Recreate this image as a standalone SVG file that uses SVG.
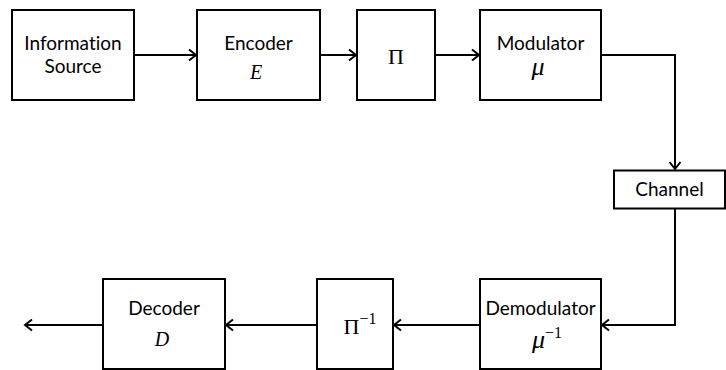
<svg xmlns="http://www.w3.org/2000/svg" width="726" height="370" viewBox="0 0 726 370">
<style>
.box{fill:#fff;stroke:#000;stroke-width:2}
.lbl{font-family:Lato,"Liberation Sans",sans-serif;font-size:19px;fill:#000;text-anchor:middle;font-variant-ligatures:none}
.math{font-family:"Liberation Serif","DejaVu Serif",serif;font-size:22px;fill:#000;text-anchor:middle}
.it{font-style:italic;font-size:20px}
.mu{font-style:italic;font-size:26px}
.conn{fill:none;stroke:#000;stroke-width:2}
</style>
<defs>
<marker id="arr" markerUnits="userSpaceOnUse" markerWidth="14" markerHeight="14" refX="10" refY="7" orient="auto">
<path d="M3,1.5 L10,7 L3,12.5" fill="none" stroke="#000" stroke-width="2"/>
</marker>
</defs>
<g id="connectors">
<path class="conn" d="M134,55 H196" marker-end="url(#arr)"/>
<path class="conn" d="M320,55 H356" marker-end="url(#arr)"/>
<path class="conn" d="M435,55 H479" marker-end="url(#arr)"/>
<path class="conn" d="M601,55 H675 V169" marker-end="url(#arr)"/>
<path class="conn" d="M675,208 V325 H602" marker-end="url(#arr)"/>
<path class="conn" d="M480,325 H394" marker-end="url(#arr)"/>
<path class="conn" d="M317,325 H226" marker-end="url(#arr)"/>
<path class="conn" d="M103,325 H25" marker-end="url(#arr)"/>
</g>
<g id="source">
<rect class="box" x="12" y="10" width="122" height="90"/>
<text class="lbl" x="73" y="50">Information</text>
<text class="lbl" x="73" y="73">Source</text>
</g>
<g id="encoder">
<rect class="box" x="197" y="10" width="123" height="90"/>
<text class="lbl" x="258.5" y="50">Encoder</text>
<text class="math it" x="256" y="79">E</text>
</g>
<g id="interleaver">
<rect class="box" x="357" y="10" width="78" height="90"/>
<text class="math" x="396" y="64">Π</text>
</g>
<g id="modulator">
<rect class="box" x="480" y="10" width="121" height="90"/>
<text class="lbl" x="540.5" y="50">Modulator</text>
<text class="math mu" x="538" y="75">μ</text>
</g>
<g id="channel">
<rect class="box" x="614" y="170.5" width="111" height="38"/>
<text class="lbl" x="669.5" y="196">Channel</text>
</g>
<g id="demodulator">
<rect class="box" x="480" y="279" width="121" height="90"/>
<text class="lbl" x="540.5" y="315">Demodulator</text>
<text class="math" x="547" y="348"><tspan class="mu">μ</tspan><tspan font-size="16" dy="-10">−1</tspan></text>
</g>
<g id="deinterleaver">
<rect class="box" x="317" y="279" width="76" height="90"/>
<text class="math" x="360" y="334">Π<tspan font-size="16" dy="-10">−1</tspan></text>
</g>
<g id="decoder">
<rect class="box" x="103" y="279" width="122" height="90"/>
<text class="lbl" x="164" y="315">Decoder</text>
<text class="math it" x="162" y="346">D</text>
</g>
</svg>
